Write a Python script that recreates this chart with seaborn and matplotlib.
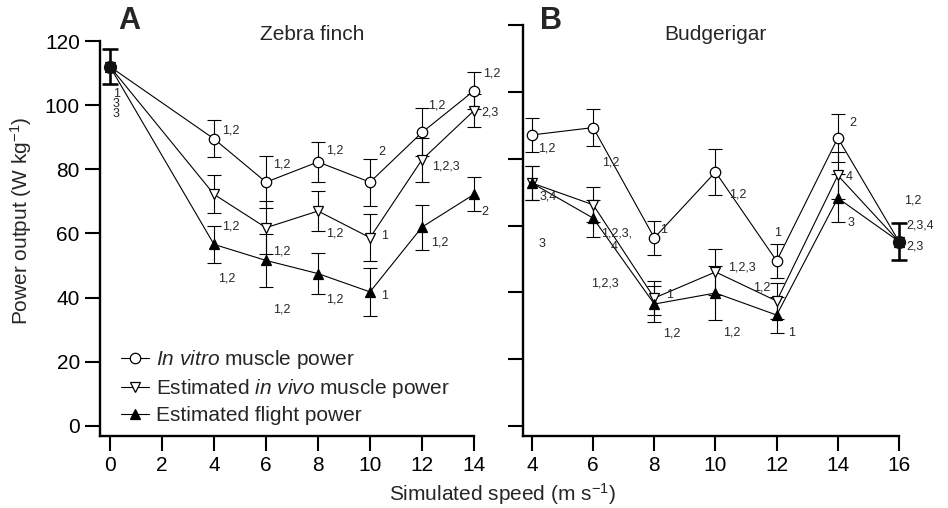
import matplotlib
matplotlib.use('Agg')
import matplotlib.pyplot as plt
import seaborn as sns
import pandas as pd

sns.set_theme(style='ticks')
plt.rcParams['font.family'] = ['Liberation Sans', 'DejaVu Sans']
plt.rcParams['mathtext.fontset'] = 'custom'
plt.rcParams['mathtext.rm'] = 'Liberation Sans'
plt.rcParams['mathtext.it'] = 'Liberation Sans:italic'
plt.rcParams['mathtext.bf'] = 'Liberation Sans:bold'

# ---------------- data: panel A (zebra finch) ----------------
speed_a = [0, 4, 6, 8, 10, 12, 14]
vitro_a = [112, 89.5, 76, 82.3, 76, 91.5, 104.5]
vitro_a_err = [5.5, 5.8, 8, 6.3, 7.3, 7.5, 5.7]
vivo_a = [112, 72.2, 61.8, 67, 58.7, 83, 98.3]
vivo_a_err = [5.5, 5.9, 8.2, 6.3, 7.3, 6.8, 5.2]
flight_a = [112, 56.6, 51.6, 47.5, 41.8, 62, 72.2]
flight_a_err = [5.5, 5.8, 8.3, 6.5, 7.4, 7, 5.3]

# ---------------- data: panel B (budgerigar) ----------------
speed_b = [4, 6, 8, 10, 12, 14, 16]
vitro_b = [87.1, 89.3, 56.3, 76, 49.4, 86.2, 55.2]
vitro_b_err = [5.1, 5.5, 5.1, 6.8, 5.2, 7.2, 5.4]
vivo_b = [72.7, 66.2, 38.3, 46.1, 37.4, 75, 55.2]
vivo_b_err = [5.2, 5.3, 5, 6.9, 5.4, 7, 5.4]
flight_b = [72.7, 62.2, 36.5, 39.8, 33.2, 68.2, 55.2]
flight_b_err = [5.2, 5.5, 5.3, 8, 5.5, 7.2, 5.4]

# significance labels (x, y, text)
labels_a = [
    (0.1, 103.6, '1'), (0.1, 100.3, '3'), (0.1, 97.1, '3'),
    (4.31, 92, '1,2'), (6.27, 81.6, '1,2'), (8.31, 86, '1,2'), (10.31, 85.4, '2'),
    (12.23, 99.8, '1,2'), (14.35, 110, '1,2'),
    (4.31, 62.3, '1,2'), (6.27, 54.3, '1,2'), (8.31, 59.9, '1,2'), (10.42, 59.2, '1'),
    (12.38, 81, '1,2,3'), (14.3, 97.8, '2,3'),
    (4.15, 45.9, '1,2'), (6.27, 36.3, '1,2'), (8.31, 39.4, '1,2'), (10.42, 40.6, '1'),
    (12.33, 57.3, '1,2'), (14.3, 66.6, '2'),
]
labels_b = [
    (4.2, 82.9, '1,2'), (4.26, 68.6, '3,4'), (4.23, 54.5, '3'),
    (6.29, 79, '1,2'), (6.26, 57.5, '1,2,3,'), (6.58, 53.6, '4'), (5.93, 42.5, '1,2,3'),
    (8.18, 58.7, '1'), (8.38, 39.2, '1'), (8.28, 27.8, '1,2'),
    (10.44, 69.2, '1,2'), (10.4, 47.3, '1,2,3'), (10.24, 28.1, '1,2'),
    (11.9, 57.8, '1'), (11.22, 41.3, '1,2'), (12.37, 27.8, '1'),
    (14.39, 90.7, '2'), (14.26, 74.6, '4'), (14.33, 60.8, '3'),
    (16.16, 67.4, '1,2'), (16.25, 59.9, '2,3,4'), (16.24, 53.6, '2,3'),
]

series_names = [r'$\mathit{In\ vitro}$ muscle power',
                r'Estimated $\mathit{in\ vivo}$ muscle power',
                'Estimated flight power']
markers = ['o', 'v', '^']
marker_faces = ['white', 'white', 'black']
marker_sizes = [7.5, 7.5, 7.5]

W, H = 948, 508
fig = plt.figure(figsize=(W / 100, H / 100), dpi=100)
axA = fig.add_axes([100 / W, 1 - 436 / H, 374 / W, 395 / H])
axB = fig.add_axes([523 / W, 1 - 436 / H, 376 / W, 411 / H])

FS = 15


def draw_panel(ax, x, ys, errs, shared_idx):
    for i, (y, e) in enumerate(zip(ys, errs)):
        df = pd.DataFrame({'speed': x, 'power': y})
        ax.errorbar(x, y, yerr=e, fmt='none', ecolor='black', elinewidth=0.8,
                    capsize=5, capthick=0.8, zorder=2, clip_on=False)
        sns.lineplot(data=df, x='speed', y='power', ax=ax, color='black', lw=0.8,
                     marker=markers[i], markersize=marker_sizes[i],
                     markerfacecolor=marker_faces[i], markeredgecolor='black',
                     markeredgewidth=0.9, label=series_names[i], legend=False,
                     zorder=3, clip_on=False)
    # shared point drawn thick
    ax.errorbar([x[shared_idx]], [ys[0][shared_idx]], yerr=[errs[0][shared_idx]],
                fmt='none', ecolor='black', elinewidth=1.8, capsize=5.5,
                capthick=1.8, zorder=4, clip_on=False)
    ax.plot([x[shared_idx]], [ys[0][shared_idx]], 'o', color='#111111', ms=8.5,
            zorder=5, clip_on=False)


draw_panel(axA, speed_a, [vitro_a, vivo_a, flight_a],
           [vitro_a_err, vivo_a_err, flight_a_err], 0)
draw_panel(axB, speed_b, [vitro_b, vivo_b, flight_b],
           [vitro_b_err, vivo_b_err, flight_b_err], len(speed_b) - 1)

for ax, labs in ((axA, labels_a), (axB, labels_b)):
    for lx, ly, t in labs:
        ax.text(lx, ly, t, fontsize=9, ha='left', va='center', clip_on=False)

axA.set_xlim(-0.385, 14)
axA.set_ylim(-3.12, 120)
axB.set_xlim(3.706, 16)
axB.set_ylim(-2.99, 120)

axA.set_xticks(range(0, 15, 2))
axA.set_yticks(range(0, 121, 20))
axB.set_xticks(range(4, 17, 2))
axB.set_yticks(range(0, 121, 20))
axB.set_yticklabels([])

for ax in (axA, axB):
    sns.despine(ax=ax)
    for s in ('left', 'bottom'):
        ax.spines[s].set_linewidth(1.7)
        ax.spines[s].set_color('black')
    ax.tick_params(axis='both', which='major', length=10.5, width=1.5,
                   color='black', labelsize=FS, labelcolor='black', pad=4)
    ax.set_xlabel('')
    ax.set_ylabel('')
    ax.set_facecolor('none')
    ax.grid(False)

# legend
handles, lbls = axA.get_legend_handles_labels()
fig.legend(handles[:3], lbls[:3], loc='lower left',
           bbox_to_anchor=(121 / W, 1 - 425 / H), frameon=False, fontsize=FS,
           borderpad=0, borderaxespad=0, handlelength=1.35, handletextpad=0.35,
           labelspacing=0.28)

fig.text(129 / W, 1 - 21 / H, 'A', fontsize=22, fontweight='bold', ha='center', va='center')
fig.text(551 / W, 1 - 21 / H, 'B', fontsize=22, fontweight='bold', ha='center', va='center')
fig.text(312 / W, 1 - 34 / H, 'Zebra finch', fontsize=FS, ha='center', va='center')
fig.text(715 / W, 1 - 34 / H, 'Budgerigar', fontsize=FS, ha='center', va='center')
fig.text(502 / W, 1 - 494 / H, r'Simulated speed (m s$^{\mathregular{-1}}$)', fontsize=FS,
         ha='center', va='center')
fig.text(21 / W, 1 - 221 / H, r'Power output (W kg$^{\mathregular{-1}}$)', fontsize=FS,
         ha='center', va='center', rotation=90)

fig.savefig('out.png', dpi=100, facecolor='white')
